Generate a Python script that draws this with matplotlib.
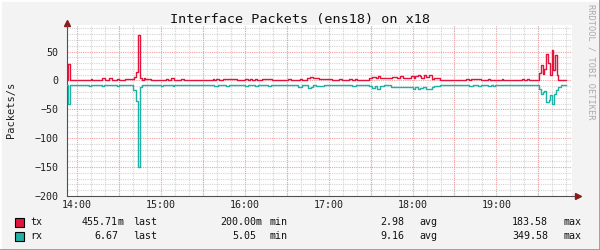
import matplotlib
matplotlib.use("Agg")
import matplotlib.pyplot as plt
from matplotlib.lines import Line2D
from matplotlib.patches import Rectangle
from matplotlib.ticker import MultipleLocator

# minutes after 14:00, step values (packets/s)
tx_t = [-7, -6.4, -4.8, 9.8, 11.2, 18.1, 20.5, 22.9, 25.2, 28.8, 30, 34.8, 41.2, 42.4, 43.6, 45.2, 46.4, 47.8, 49,
        50.7, 53.1, 63.8, 65.5, 67.4, 69.3, 74.5, 76.4, 91.2, 93.6, 97.1, 98.3, 99.5, 101.9, 104.3,
        114.3, 120.2, 122.1, 123.8, 125, 127.4, 128.6, 132.1, 139.3, 151.2, 153.1, 159.5, 160.7, 164.3, 166.7, 169,
        173.1, 175.5, 177.9, 182.6, 187.4, 189.3, 194.5, 196.4, 198.8, 200.5, 208.8, 211.2, 213.6, 215.5, 217.1,
        223.1, 225.5, 229,
        230.7, 233.1, 235.5, 239, 240.7, 242.1, 243.8, 245, 246.2, 247.9, 249.3, 252.1, 254, 255.7, 259.3, 278.3,
        280.7, 281.9, 283.6, 286.7, 289,
        294.3, 295.5, 303.8, 305, 318.1, 319.8, 321.7, 323.6, 328.8,
        330.2, 331.7, 333, 334.2, 335.5, 337.2, 338.3, 339.5, 340.7, 341.6, 343, 344.3]
tx_v = [1.1, 29, 1.1, 2.9, 1.1, 4, 1.1, 4, 1.1, 2.9, 1.1, 2.9, 5.7, 15.5, 79, 4, 1.1, 4, 2.2,
        2.9, 0.5, 2.9, 0.5, 4, 0.5, 1.8, 0.5, 1.1, 0.5, 1.8, 0.5, 1.8, 0.5, 2.9,
        1.1, 2.9, 1.1, 2.9, 1.1, 2.9, 1.1, 2.9, 1.1, 2.9, 1.1, 2.9, 1.1, 4, 5.7, 4,
        1.8, 2.9, 1.8, 1.1, 2.9, 1.1, 2.9, 1.1, 2.9, 1.1, 4, 5.7, 4, 7.5, 4,
        4.6, 5.7, 4,
        6.9, 4, 4.6, 6.9, 4, 6.9, 9.8, 6.9, 4.6, 8.6, 5.7, 9.8, 2.9, 4, 1.1, 2.9,
        1.1, 2.9, 2.3, 2.9, 0.3,
        1.8, 0.3, 1.8, 0.3, 1.8, 1.1, 2.9, 0.3, 1.1,
        13, 26, 12, 20, 46, 30, 10, 52, 18, 44, 10, 0.5]

rx_t = [-7, -6.4, -4.8, 8.6, 9.8, 18.1, 19.3, 28.8, 30, 40.2, 42.1, 43.8, 45.2, 46.4,
        60.2, 61.4, 68.6, 69.8, 98.3, 100.7, 106.7, 109,
        120.2, 122.1, 127.4, 129.3, 136.9, 138.8, 158.3, 160.7, 165.5, 167.4, 169,
        170.7, 176.7, 177.9, 196.9, 199.3, 208.8, 211.2, 213.1, 214.8, 216.4, 219.5, 224.3,
        230.7, 240.2, 242.1, 243.8, 245, 247.4, 249.3, 251.7, 254, 255.7, 259.3, 266.4, 278.3, 280.7, 283.1,
        286.7, 289,
        294.3, 296, 297.4, 299, 321.7, 323.6,
        330.2, 332, 333, 334.3, 335.5, 337.4, 338.3, 339.7, 341.4, 342.6, 343.8, 346.2]
rx_v = [8.6, 40, 8.6, 10.3, 8.6, 10.3, 8.6, 10.3, 8.6, 17, 35, 150, 11, 8.6,
        10.3, 8.6, 10.3, 8.6, 10.3, 8.6, 10.3, 8.6,
        9.8, 8.6, 9.8, 8.6, 9.8, 8.6, 11.5, 8.6, 13, 11.5, 8.6,
        9.8, 7.5, 8.6, 9.8, 8.6, 10.3, 12.6, 10.3, 14.4, 10.3, 8.6, 11.5,
        11.5, 14.4, 11.5, 15.5, 13.2, 11.5, 14.4, 15.5, 11.5, 9.8, 8.6, 7.5, 8.6, 10.3, 8.6,
        10.3, 7.5,
        10.3, 7.5, 10.3, 7.5, 8.6, 7.5,
        15.5, 24, 20, 18, 37, 33, 26, 40, 24, 16, 12, 8.6]
t_end = 350

hour_ticks = [0, 60, 120, 180, 240, 300]
hour_labels = ["14:00", "15:00", "16:00", "17:00", "18:00", "19:00"]

legend_names = ["tx", "rx"]
legend_colors = ["#E2143C", "#1FB0A6"]
legend_stats = [
    [("455.71", "m"), ("200.00", "m"), ("2.98", ""), ("183.58", "")],
    [("6.67", ""), ("5.05", ""), ("9.16", ""), ("349.58", "")],
]
stat_words = ["last", "min", "avg", "max"]

W, H = 600, 250
mono = "DejaVu Sans Mono"

fig = plt.figure(figsize=(6, 2.5), dpi=100, facecolor="#F3F3F3")
ax = fig.add_axes([67 / W, 1 - 196 / H, 505 / W, 171 / H])
ax.set_facecolor("white")

ax.step(tx_t + [t_end], tx_v + [tx_v[-1]], where="post", color=legend_colors[0], lw=1.0, zorder=3)
ax.step(rx_t + [t_end], [-v for v in rx_v] + [-rx_v[-1]], where="post", color=legend_colors[1], lw=1.0, zorder=3)

ax.set_xlim(-7, 354)
ax.set_ylim(-200, 96)
ax.set_xticks(hour_ticks)
ax.set_xticklabels(hour_labels)
ax.xaxis.set_minor_locator(MultipleLocator(10))
ax.set_yticks([-200, -150, -100, -50, 0, 50])
ax.yaxis.set_minor_locator(MultipleLocator(10))

# rrdtool style grid
ax.grid(which="minor", color="#D4D4D4", linestyle=(0, (1, 1)), lw=0.8)
for x in range(0, 354, 30):
    ax.axvline(x, color="#F2A0A0", linestyle=(0, (1, 1)), lw=0.8, zorder=1)
for y in [-150, -100, -50, 0, 50]:
    ax.axhline(y, color="#F2A0A0", linestyle=(0, (1, 1)), lw=0.8, zorder=1)
ax.set_axisbelow(True)

for s in ["top", "right"]:
    ax.spines[s].set_visible(False)
for s in ["left", "bottom"]:
    ax.spines[s].set_color("#505050")
    ax.spines[s].set_linewidth(0.8)
ax.tick_params(which="both", length=0)
ax.tick_params(axis="x", pad=3, labelsize=7.2, labelcolor="#202020")
ax.tick_params(axis="y", pad=6, labelsize=7.2, labelcolor="#202020")
for lab in ax.get_xticklabels() + ax.get_yticklabels():
    lab.set_family(mono)

# axis arrows
ax.plot([1.0, 1.012], [0, 0], transform=ax.transAxes, color="#505050", lw=0.8, clip_on=False)
ax.plot([1.012], [0], transform=ax.transAxes, marker=">", color="#8B1A1A", ms=4, clip_on=False)
ax.plot([0], [1.01], transform=ax.transAxes, marker="^", color="#8B1A1A", ms=4, clip_on=False)

ylab = ax.set_ylabel("Packets/s", family=mono, fontsize=7.5, color="#202020")
ylab.set_va("center")
ax.yaxis.set_label_coords((11 - 67) / 505, (196 - 110) / 171)
fig.text(0.5, 1 - 20 / H, "Interface Packets (ens18) on x18", family=mono, fontsize=9.7,
         ha="center", va="center", color="#111111")
fig.text(591 / W, 1 - 62 / H, "RRDTOOL / TOBI OETIKER", family=mono, fontsize=6.2,
         rotation=270, ha="center", va="center", color="#AAAAAA")

# legend rows
num_right = [118, 256, 404, 548]
word_left = [133, 269, 419, 563]
row_y = [222, 236]
for i, name in enumerate(legend_names):
    y = 1 - row_y[i] / H
    fig.patches.append(Rectangle((15 / W, 1 - (row_y[i] + 4.5) / H), 9 / W, 9 / H, transform=fig.transFigure,
                                 facecolor=legend_colors[i], edgecolor="black", lw=0.8))
    fig.text(30 / W, y, name, family=mono, fontsize=7.2, va="center", ha="left", color="#111111")
    for j, (val, unit) in enumerate(legend_stats[i]):
        fig.text(num_right[j] / W, y, val, family=mono, fontsize=7.2, va="center", ha="right", color="#111111")
        if unit:
            fig.text(num_right[j] / W, y, unit, family=mono, fontsize=7.2, va="center", ha="left", color="#111111")
        fig.text(word_left[j] / W, y, stat_words[j], family=mono, fontsize=7.2, va="center", ha="left",
                 color="#111111")

# 3d frame
fig.add_artist(Line2D([0, 0, 1], [0, 1, 1], transform=fig.transFigure, color="white", lw=2))
fig.add_artist(Line2D([0, 1, 1], [0.002, 0.002, 1], transform=fig.transFigure, color="#999999", lw=2))

fig.savefig("out.png", dpi=100, facecolor=fig.get_facecolor())
